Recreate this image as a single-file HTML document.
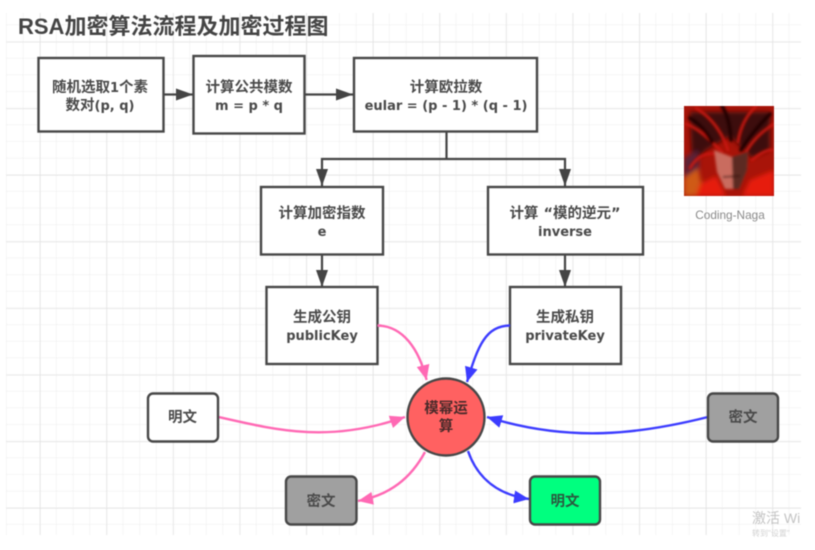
<!DOCTYPE html>
<html lang="zh">
<head>
<meta charset="utf-8">
<title>RSA加密算法流程及加密过程图</title>
<style>
html,body{margin:0;padding:0;background:#fff;width:815px;height:550px;overflow:hidden}
svg{display:block;filter:blur(.55px)}
text{font-family:"DejaVu Sans","Noto Sans CJK SC",sans-serif;fill:#4a4a4a;text-anchor:middle;font-weight:bold;font-size:14.5px}
.l{font-size:13px}
.box{fill:#fff;stroke:#474747;stroke-width:2.4}
.line{fill:none;stroke:#444;stroke-width:2.2}
.pink{fill:none;stroke:#ff69b4;stroke-width:2.4}
.blue{fill:none;stroke:#3c3cff;stroke-width:2.4}
</style>
</head>
<body>
<svg width="815" height="550" viewBox="0 0 815 550" xmlns="http://www.w3.org/2000/svg">
<defs>
<pattern id="minor" x="6.7" y="8.5" width="16.65" height="16.65" patternUnits="userSpaceOnUse">
<path d="M16.65 0V16.65M0 16.65H16.65" fill="none" stroke="#ececec" stroke-width="1"/>
</pattern>
<pattern id="major" x="40" y="41.8" width="66.6" height="66.6" patternUnits="userSpaceOnUse">
<path d="M0 0V66.6M0 0H66.6" fill="none" stroke="#e2e2e2" stroke-width="1.2"/>
</pattern>
<marker id="hd" markerUnits="userSpaceOnUse" markerWidth="18" markerHeight="13" refX="17" refY="6" orient="auto"><path d="M0 0L17 6L0 12Z" fill="#444"/></marker>
<marker id="hp" markerUnits="userSpaceOnUse" markerWidth="16" markerHeight="15" refX="15" refY="6.5" orient="auto"><path d="M0 0L15 6.5L0 13Z" fill="#ff69b4"/></marker>
<marker id="hb" markerUnits="userSpaceOnUse" markerWidth="16" markerHeight="15" refX="15" refY="6.5" orient="auto"><path d="M0 0L15 6.5L0 13Z" fill="#3c3cff"/></marker>
<filter id="soft" x="-20%" y="-20%" width="140%" height="140%"><feGaussianBlur stdDeviation="1.3"/></filter>
<filter id="soft2" x="-20%" y="-20%" width="140%" height="140%"><feGaussianBlur stdDeviation="2.4"/></filter>
<clipPath id="av"><rect x="684" y="106" width="90" height="90"/></clipPath>
</defs>

<rect x="6" y="13" width="795" height="522" fill="url(#minor)"/>
<rect x="6" y="13" width="795" height="522" fill="url(#major)"/>

<text x="18" y="34" style="font-family:'Liberation Sans','Noto Sans CJK SC',sans-serif;font-size:22px;text-anchor:start;fill:#444">RSA加密算法流程及加密过程图</text>

<!-- straight connectors -->
<path class="line" d="M163 94.5H193" marker-end="url(#hd)"/>
<path class="line" d="M304 94.5H353" marker-end="url(#hd)"/>
<path class="line" d="M446.5 131V159"/>
<path class="line" d="M446.5 159H322V186" marker-end="url(#hd)"/>
<path class="line" d="M446.5 159H565V186" marker-end="url(#hd)"/>
<path class="line" d="M322 254V287" marker-end="url(#hd)"/>
<path class="line" d="M565 254V287" marker-end="url(#hd)"/>

<!-- boxes -->
<rect class="box" x="38.5" y="58" width="125" height="73.5"/>
<rect class="box" x="193.5" y="56" width="111" height="77.5"/>
<rect class="box" x="354" y="58" width="183" height="73.5"/>
<rect class="box" x="261" y="187" width="122" height="67.5"/>
<rect class="box" x="488" y="187" width="155" height="67.5"/>
<rect class="box" x="266.5" y="287" width="111" height="77"/>
<rect class="box" x="510" y="287" width="111" height="77"/>

<text x="100" y="92">随机选取<tspan class="l">1</tspan>个素</text>
<text x="100" y="110">数对<tspan class="l">(p, q)</tspan></text>
<text x="249" y="92">计算公共模数</text>
<text x="249" y="110" class="l">m = p * q</text>
<text x="446" y="92">计算欧拉数</text>
<text x="446" y="110" class="l">eular = (p - 1) * (q - 1)</text>
<text x="322" y="218">计算加密指数</text>
<text x="322" y="236" class="l">e</text>
<text x="565" y="218">计算 “模的逆元”</text>
<text x="565" y="236" class="l">inverse</text>
<text x="322" y="322">生成公钥</text>
<text x="322" y="340" class="l">publicKey</text>
<text x="565" y="322">生成私钥</text>
<text x="565" y="340" class="l">privateKey</text>

<!-- curved connectors -->
<path class="pink" d="M377.5 325.5C403 326 419 349 426.6 380" marker-end="url(#hp)"/>
<path class="pink" d="M218.5 417C280 431 330 443 405 417" marker-end="url(#hp)"/>
<path class="pink" d="M425 452C411 478 390 495 358 501" marker-end="url(#hp)"/>
<path class="blue" d="M510 325.5C486 326 478 345 467 382" marker-end="url(#hb)"/>
<path class="blue" d="M708 417C640 434 570 443 487 417" marker-end="url(#hb)"/>
<path class="blue" d="M468 451C478 480 500 495 529 499" marker-end="url(#hb)"/>

<!-- circle -->
<circle cx="446" cy="417" r="38.5" fill="#ff6161" stroke="#474747" stroke-width="2.4"/>
<text x="446" y="413" style="fill:#4a2a2a">模幂运</text>
<text x="446" y="431" style="fill:#4a2a2a">算</text>

<!-- rounded boxes -->
<rect x="148" y="393.5" width="70" height="48" rx="5" fill="#fff" stroke="#474747" stroke-width="2.4"/>
<text x="182.5" y="422">明文</text>
<rect x="286" y="476.5" width="70.5" height="48" rx="5" fill="#a0a0a0" stroke="#474747" stroke-width="2.4"/>
<text x="321" y="506">密文</text>
<rect x="530" y="476.5" width="70" height="48" rx="5" fill="#00ff7f" stroke="#474747" stroke-width="2.4"/>
<text x="565" y="506" style="fill:#2a5a40">明文</text>
<rect x="708" y="393.5" width="70" height="48" rx="5" fill="#a0a0a0" stroke="#474747" stroke-width="2.4"/>
<text x="743" y="422">密文</text>

<!-- avatar -->
<g clip-path="url(#av)">
<rect x="684" y="106" width="90" height="90" fill="#a81409"/>
<g filter="url(#soft2)">
<path d="M690 112H770V150L752 158 730 136 706 150 692 165Z" fill="#3c0b08"/>
<path d="M684 158L698 150 700 180 684 188Z" fill="#5a2238"/>
<path d="M684 178L698 168 704 196H684Z" fill="#cf5a18"/>
<path d="M700 184L716 176 726 196H696ZM750 180L774 170V196H742Z" fill="#e61c0c"/>
</g>
<g filter="url(#soft)" fill="none" stroke-linecap="round">
<path d="M728 150C722 132 712 118 696 108M722 152C708 138 698 128 686 124M738 142C740 128 746 116 756 106M746 152C754 138 764 130 774 124M716 154C704 152 696 158 690 168M752 160C760 154 766 150 772 150" stroke="#c8180c" stroke-width="3"/>
<path d="M731 140C730 126 728 116 722 106M741 150C750 136 760 124 770 114M712 142C706 132 700 124 690 118" stroke="#220504" stroke-width="3.5"/>
</g>
<g filter="url(#soft)">
<path d="M714 150L732 157 748 152 747 170 739 189H725L717 172Z" fill="#c96c5e"/>
<path d="M732 157L748 152 747 170 739 189H733Z" fill="#5c2a22"/>
<path d="M723 177L740 176" stroke="#3a1410" stroke-width="1.5" fill="none"/>
</g>
</g>
<text x="730" y="219" style="font-family:'Liberation Sans',sans-serif;font-size:11.8px;font-weight:normal;fill:#8a8a8a">Coding-Naga</text>

<!-- watermark -->
<text x="752" y="523" style="font-family:'Liberation Sans','Noto Sans CJK SC',sans-serif;font-size:14px;font-weight:normal;fill:#c4c4c4;text-anchor:start">激活 Wi</text>
<text x="752" y="536" style="font-family:'Liberation Sans','Noto Sans CJK SC',sans-serif;font-size:8px;font-weight:normal;fill:#d2d2d2;text-anchor:start">转到"设置"</text>
<rect x="801" y="0" width="14" height="550" fill="#fff"/>
</svg>
</body>
</html>
